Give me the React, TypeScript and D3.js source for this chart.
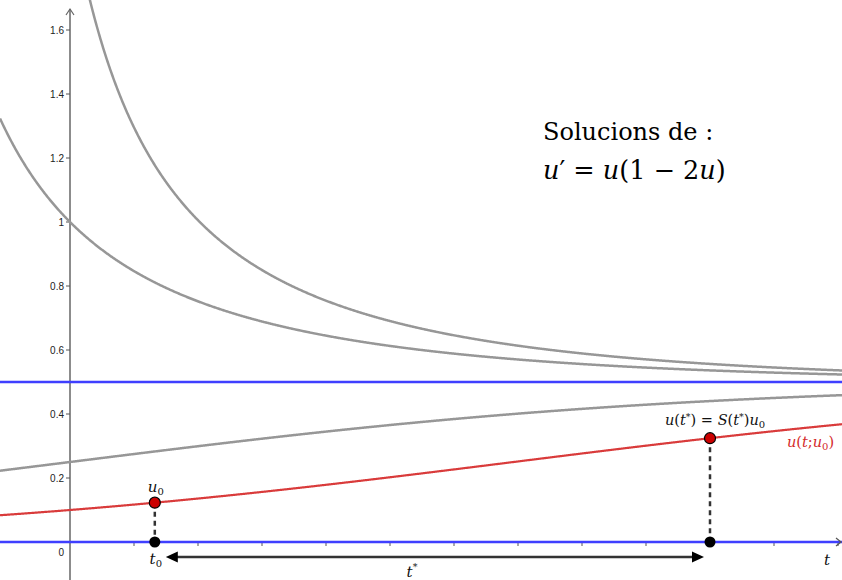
import React from "react";
import * as d3 from "d3";

// Solutions of the logistic equation u' = u(1 - 2u)
const grayInitialValues = [2, 1, 0.25];
const redInitialValue = 0.1;
const equilibria = [0, 0.5];
const t0 = 0.265;
const tStar = 2;
const yTickValues = [0.2, 0.4, 0.6, 0.8, 1, 1.2, 1.4, 1.6];
const yTickLabels = ["0.2", "0.4", "0.6", "0.8", "1", "1.2", "1.4", "1.6"];
const xTickValues = [0.2, 0.4, 0.6, 0.8, 1, 1.2, 1.4, 1.6, 1.8, 2, 2.2, 2.4];

const W = 842;
const H = 580;

// exact solution with u(0) = u0
const solution = (u0: number) => (t: number) =>
  0.5 / (1 + ((0.5 - u0) / u0) * Math.exp(-t));

const serifFamily = "DejaVu Serif, serif";
const sansFamily = "Liberation Sans, Arial, sans-serif";

export default function App() {
  const x = d3.scaleLinear().domain([0, 1]).range([70, 390]);
  const y = d3.scaleLinear().domain([0, 1]).range([542, 222]);

  const tMin = x.invert(0);
  const tMax = x.invert(W);
  const samples = d3.range(tMin, tMax + 0.002, 0.002);

  const curvePath = (u0: number) => {
    const f = solution(u0);
    const pts: [number, number][] = [];
    for (const t of samples) {
      const v = f(t);
      if (isFinite(v) && v > -0.5 && v < 2.2) pts.push([t, v]);
    }
    return d3
      .line<[number, number]>()
      .x((d) => x(d[0]))
      .y((d) => y(d[1]))(pts) as string;
  };

  const fRed = solution(redInitialValue);
  const uT0 = fRed(t0);
  const uTStar = fRed(tStar);

  const arrowY = 557;

  return (
    <svg
      width={W}
      height={H}
      style={{ position: "absolute", left: 0, top: 0, background: "#fff" }}
    >
      <defs>
        <clipPath id="plot">
          <rect x={0} y={0} width={W} height={H} />
        </clipPath>
      </defs>

      {/* y axis */}
      <line x1={x(0)} x2={x(0)} y1={H} y2={9} stroke="#666" strokeWidth={1.5} />
      <path
        d={`M${x(0) - 4},${15} L${x(0)},${9} L${x(0) + 4},${15}`}
        fill="none"
        stroke="#666"
        strokeWidth={1.2}
      />
      <g fontFamily={sansFamily} fontSize={10} fill="#222">
        {yTickValues.map((v, i) => (
          <g key={v}>
            <line x1={x(0) - 4} x2={x(0)} y1={y(v)} y2={y(v)} stroke="#555" strokeWidth={1} />
            <text x={x(0) - 6} y={y(v) + 3.5} textAnchor="end">
              {yTickLabels[i]}
            </text>
          </g>
        ))}
        <text x={x(0) - 6} y={y(0) + 14} textAnchor="end">
          0
        </text>
      </g>

      {/* x axis */}
      <line x1={0} x2={W - 1} y1={y(0)} y2={y(0)} stroke="#666" strokeWidth={1.5} />
      {xTickValues.map((v) => (
        <line key={v} x1={x(v)} x2={x(v)} y1={y(0)} y2={y(0) + 4} stroke="#555" strokeWidth={1} />
      ))}

      {/* equilibria */}
      {equilibria.map((e) => (
        <line key={e} x1={0} x2={W} y1={y(e)} y2={y(e)} stroke="#3f3fff" strokeWidth={2.5} />
      ))}
      <path
        d={`M${W - 6},${y(0) - 4} L${W - 1},${y(0)} L${W - 6},${y(0) + 4}`}
        fill="none"
        stroke="#555"
        strokeWidth={1.2}
      />

      {/* solution curves */}
      <g clipPath="url(#plot)" fill="none">
        {grayInitialValues.map((u0) => (
          <path key={u0} d={curvePath(u0)} stroke="#979797" strokeWidth={2.5} />
        ))}
        <path d={curvePath(redInitialValue)} stroke="#d93b3b" strokeWidth={2.2} />
      </g>

      {/* projections onto the time axis */}
      {[
        [t0, uT0],
        [tStar, uTStar],
      ].map(([t, u]) => (
        <line
          key={t}
          x1={x(t)}
          x2={x(t)}
          y1={y(u)}
          y2={y(0)}
          stroke="#333"
          strokeWidth={2.5}
          strokeDasharray="5 4"
        />
      ))}

      {/* elapsed time arrow */}
      <line x1={x(t0) + 20} x2={x(tStar) - 15} y1={arrowY} y2={arrowY} stroke="#333" strokeWidth={2.5} />
      <path
        d={`M${x(t0) + 11},${arrowY} L${x(t0) + 23},${arrowY - 5.5} L${x(t0) + 23},${arrowY + 5.5} Z`}
        fill="#000"
      />
      <path
        d={`M${x(tStar) - 6},${arrowY} L${x(tStar) - 18},${arrowY - 5.5} L${x(tStar) - 18},${arrowY + 5.5} Z`}
        fill="#000"
      />

      {/* points */}
      <circle cx={x(t0)} cy={y(uT0)} r={5.5} fill="#cc0000" stroke="#000" strokeWidth={1.2} />
      <circle cx={x(tStar)} cy={y(uTStar)} r={5.5} fill="#cc0000" stroke="#000" strokeWidth={1.2} />
      <circle cx={x(t0)} cy={y(0)} r={5.5} fill="#000" />
      <circle cx={x(tStar)} cy={y(0)} r={5.5} fill="#000" />

      {/* labels */}
      <g fontFamily={serifFamily} fill="#111">
        <text x={x(t0) + 1} y={492} textAnchor="middle" fontSize={15}>
          <tspan fontStyle="italic">u</tspan>
          <tspan fontSize={10} dy={3}>0</tspan>
        </text>
        <text x={x(t0) + 1} y={564} textAnchor="middle" fontSize={15}>
          <tspan fontStyle="italic">t</tspan>
          <tspan fontSize={10} dy={3}>0</tspan>
        </text>
        <text x={412} y={577} textAnchor="middle" fontSize={15}>
          <tspan fontStyle="italic">t</tspan>
          <tspan fontSize={9.5} dy={-7}>*</tspan>
        </text>
        <text x={665} y={425} fontSize={14.5}>
          <tspan fontStyle="italic">u</tspan>
          <tspan>(</tspan>
          <tspan fontStyle="italic">t</tspan>
          <tspan fontSize={9.5} dy={-5}>*</tspan>
          <tspan dy={5}>) = </tspan>
          <tspan fontStyle="italic">S</tspan>
          <tspan>(</tspan>
          <tspan fontStyle="italic">t</tspan>
          <tspan fontSize={9.5} dy={-5}>*</tspan>
          <tspan dy={5}>)</tspan>
          <tspan fontStyle="italic">u</tspan>
          <tspan fontSize={10} dy={3}>0</tspan>
        </text>
        <text x={824} y={565} fontSize={15}>
          <tspan fontStyle="italic">t</tspan>
        </text>
      </g>
      <text x={787} y={447} fontFamily={serifFamily} fontSize={14.5} fill="#d42a2a">
        <tspan fontStyle="italic">u</tspan>
        <tspan>(</tspan>
        <tspan fontStyle="italic">t</tspan>
        <tspan>;</tspan>
        <tspan fontStyle="italic">u</tspan>
        <tspan fontSize={10} dy={3}>0</tspan>
        <tspan dy={-3}>)</tspan>
      </text>

      {/* title */}
      <g fontFamily={serifFamily} fill="#000">
        <text x={543} y={140} fontSize={24}>
          Solucions de :
        </text>
        <text x={543} y={179} fontSize={25.5}>
          <tspan fontStyle="italic">u</tspan>
          <tspan>′ = </tspan>
          <tspan fontStyle="italic">u</tspan>
          <tspan>(1 − 2</tspan>
          <tspan fontStyle="italic">u</tspan>
          <tspan>)</tspan>
        </text>
      </g>
    </svg>
  );
}
